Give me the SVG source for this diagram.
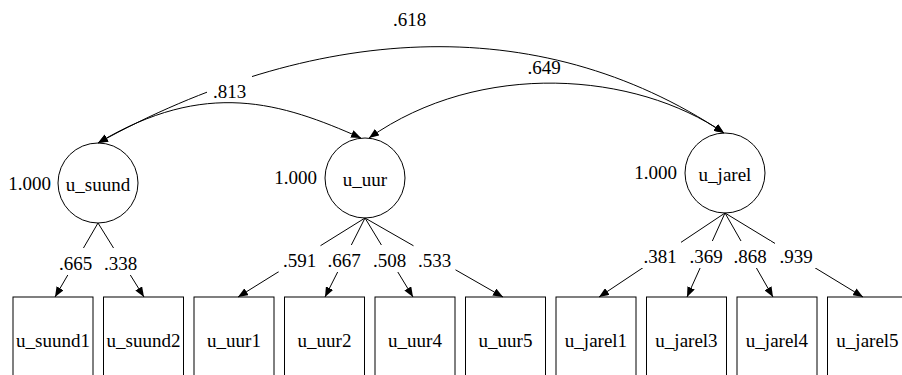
<svg xmlns="http://www.w3.org/2000/svg" width="902" height="375" viewBox="0 0 902 375">
  <style>
    text { font-family: "Liberation Serif", "Times New Roman", "DejaVu Serif", serif; font-size: 19px; fill: #000; }
    .mid { text-anchor: middle; }
    .end { text-anchor: end; }
    .latent { fill: #fff; stroke: #000; stroke-width: 1; }
    .obs { fill: #fff; stroke: #000; stroke-width: 1; }
    .edge { fill: none; stroke: #000; stroke-width: 1; marker-end: url(#ah); }
    .cov { fill: none; stroke: #000; stroke-width: 1; marker-start: url(#ah); marker-end: url(#ah); }
    .bg { fill: #fff; stroke: none; }
  </style>
  <defs>
    <marker id="ah" viewBox="0 0 10 8" refX="10" refY="4" markerWidth="10" markerHeight="8" markerUnits="userSpaceOnUse" orient="auto-start-reverse">
      <path d="M0,0 L10,4 L0,8 z" fill="#000"/>
    </marker>
  </defs>
  <rect width="902" height="375" fill="#fff"/>

  <!-- latent factors with their variances -->
  <g id="u_suund">
    <circle class="latent" cx="98" cy="183" r="40"/>
    <text class="mid" x="98" y="191">u_suund</text>
    <text class="end" x="51" y="190">1.000</text>
  </g>
  <g id="u_uur">
    <circle class="latent" cx="365" cy="178" r="40"/>
    <text class="mid" x="365" y="186">u_uur</text>
    <text class="end" x="317" y="184">1.000</text>
  </g>
  <g id="u_jarel">
    <circle class="latent" cx="725" cy="173" r="40"/>
    <text class="mid" x="725" y="181">u_jarel</text>
    <text class="end" x="677" y="179">1.000</text>
  </g>

  <!-- observed indicators (boxes run off the bottom edge) -->
  <g id="u_suund1"><rect class="obs" x="13" y="297" width="80" height="100"/><text class="mid" x="53" y="347">u_suund1</text></g>
  <g id="u_suund2"><rect class="obs" x="103.5" y="297" width="80" height="100"/><text class="mid" x="143.5" y="347">u_suund2</text></g>
  <g id="u_uur1"><rect class="obs" x="194" y="297" width="80" height="100"/><text class="mid" x="234" y="347">u_uur1</text></g>
  <g id="u_uur2"><rect class="obs" x="284.5" y="297" width="80" height="100"/><text class="mid" x="324.5" y="347">u_uur2</text></g>
  <g id="u_uur4"><rect class="obs" x="375" y="297" width="80" height="100"/><text class="mid" x="415" y="347">u_uur4</text></g>
  <g id="u_uur5"><rect class="obs" x="465.5" y="297" width="80" height="100"/><text class="mid" x="505.5" y="347">u_uur5</text></g>
  <g id="u_jarel1"><rect class="obs" x="556" y="297" width="80" height="100"/><text class="mid" x="596" y="347">u_jarel1</text></g>
  <g id="u_jarel3"><rect class="obs" x="646.5" y="297" width="80" height="100"/><text class="mid" x="686.5" y="347">u_jarel3</text></g>
  <g id="u_jarel4"><rect class="obs" x="737" y="297" width="80" height="100"/><text class="mid" x="777" y="347">u_jarel4</text></g>
  <g id="u_jarel5"><rect class="obs" x="827.5" y="297" width="80" height="100"/><text class="mid" x="867.5" y="347">u_jarel5</text></g>

  <!-- connectors: factor covariances and loadings -->
  <g id="connectors">
    <path class="cov" d="M98,143 C310.8,25.9 535.5,7.4 724,133"/>
    <path class="cov" d="M98,143 C205.7,78.4 281.3,102.6 361,138"/>
    <path class="cov" d="M369,138 C480.5,59.4 635.8,72 724,133"/>

    <line class="edge" x1="98" y1="223" x2="55" y2="297"/>
    <line class="edge" x1="98" y1="223" x2="144" y2="297"/>

    <line class="edge" x1="365" y1="218" x2="238" y2="297"/>
    <line class="edge" x1="365" y1="218" x2="325" y2="297"/>
    <line class="edge" x1="365" y1="218" x2="413" y2="297"/>
    <line class="edge" x1="365" y1="218" x2="503" y2="297"/>

    <line class="edge" x1="725" y1="213" x2="599" y2="297"/>
    <line class="edge" x1="725" y1="213" x2="687" y2="297"/>
    <line class="edge" x1="725" y1="213" x2="773" y2="297"/>
    <line class="edge" x1="725" y1="213" x2="863" y2="297"/>
  </g>

  <!-- edge labels, most on a white backing that breaks the line underneath -->
  <g id="edge-labels">
    <text class="mid" x="409.5" y="26">.618</text>
    <text class="mid" x="544" y="74">.649</text>
    <rect class="bg" x="207" y="76" width="45" height="25"/>
    <text class="mid" x="229.5" y="98">.813</text>

    <rect class="bg" x="54.5" y="248" width="42" height="27"/>
    <text class="mid" x="75.5" y="270">.665</text>
    <rect class="bg" x="99.5" y="248" width="42" height="27"/>
    <text class="mid" x="120.5" y="270">.338</text>

    <rect class="bg" x="278.5" y="245" width="42" height="27"/>
    <text class="mid" x="299.5" y="267">.591</text>
    <rect class="bg" x="323" y="245" width="42" height="27"/>
    <text class="mid" x="344" y="267">.667</text>
    <rect class="bg" x="368.5" y="245" width="42" height="27"/>
    <text class="mid" x="389.5" y="267">.508</text>
    <rect class="bg" x="413.5" y="245" width="42" height="27"/>
    <text class="mid" x="434.5" y="267">.533</text>

    <rect class="bg" x="639" y="241" width="42" height="27"/>
    <text class="mid" x="660" y="263">.381</text>
    <rect class="bg" x="685" y="241" width="42" height="27"/>
    <text class="mid" x="706" y="263">.369</text>
    <rect class="bg" x="729" y="241" width="42" height="27"/>
    <text class="mid" x="750" y="263">.868</text>
    <rect class="bg" x="775" y="241" width="42" height="27"/>
    <text class="mid" x="796" y="263">.939</text>
  </g>
</svg>
